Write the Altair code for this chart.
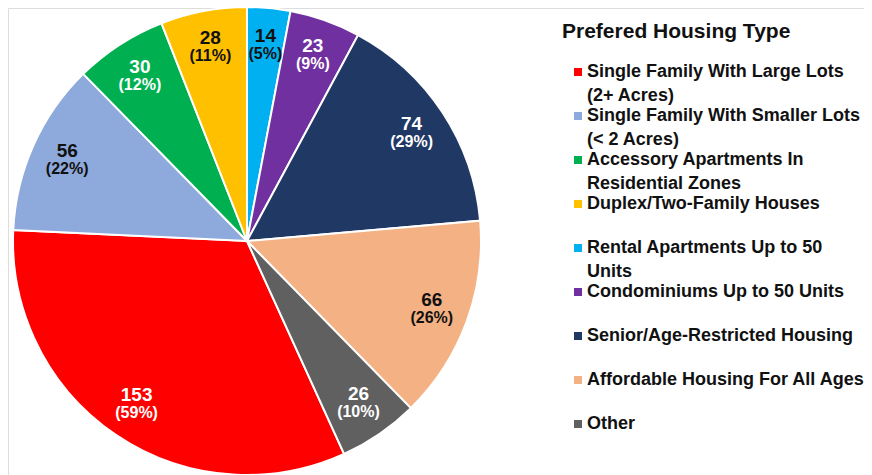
import altair as alt
import pandas as pd

# ---- data ----
categories = [
    "Single Family With Large Lots (2+ Acres)",
    "Single Family With Smaller Lots (< 2 Acres)",
    "Accessory Apartments In Residential Zones",
    "Duplex/Two-Family Houses",
    "Rental Apartments Up to 50 Units",
    "Condominiums Up to 50 Units",
    "Senior/Age-Restricted Housing",
    "Affordable Housing For All Ages",
    "Other",
]
counts = [153, 56, 30, 28, 14, 23, 74, 66, 26]
percents = [59, 22, 12, 11, 5, 9, 29, 26, 10]
colors = ["#FF0000", "#8EA9DB", "#00B050", "#FFC000", "#00B0F0",
          "#7030A0", "#203864", "#F4B183", "#606060"]

# slice sequence going clockwise from 12 o'clock
clockwise_from_top = [
    "Rental Apartments Up to 50 Units",
    "Condominiums Up to 50 Units",
    "Senior/Age-Restricted Housing",
    "Affordable Housing For All Ages",
    "Other",
    "Single Family With Large Lots (2+ Acres)",
    "Single Family With Smaller Lots (< 2 Acres)",
    "Accessory Apartments In Residential Zones",
    "Duplex/Two-Family Houses",
]

# legend label wrapping (a blank second line keeps every entry the same height)
legend_lines = {
    "Single Family With Large Lots (2+ Acres)": ["Single Family With Large Lots", "(2+ Acres)"],
    "Single Family With Smaller Lots (< 2 Acres)": ["Single Family With Smaller Lots", "(< 2 Acres)"],
    "Accessory Apartments In Residential Zones": ["Accessory Apartments In", "Residential Zones"],
    "Duplex/Two-Family Houses": ["Duplex/Two-Family Houses", ""],
    "Rental Apartments Up to 50 Units": ["Rental Apartments Up to 50", "Units"],
    "Condominiums Up to 50 Units": ["Condominiums Up to 50 Units", ""],
    "Senior/Age-Restricted Housing": ["Senior/Age-Restricted Housing", ""],
    "Affordable Housing For All Ages": ["Affordable Housing For All Ages", ""],
    "Other": ["Other", ""],
}
dark_text = [
    "Single Family With Smaller Lots (< 2 Acres)",
    "Duplex/Two-Family Houses",
    "Rental Apartments Up to 50 Units",
    "Affordable Housing For All Ages",
]

df = pd.DataFrame({"category": categories, "count": counts, "pct": percents})
df["seq"] = df["category"].map({c: i for i, c in enumerate(clockwise_from_top)})
df["num_label"] = df["count"].astype(str)
df["pct_label"] = "(" + df["pct"].astype(str) + "%)"

def js_str(s):
    return "'" + s.replace("\\", "\\\\").replace("'", "\\'") + "'"

expr = "datum.label"
for cat in reversed(categories):
    lines = "[" + ", ".join(js_str(l) for l in legend_lines[cat]) + "]"
    expr = f"datum.label === {js_str(cat)} ? {lines} : ({expr})"

FONT = "Liberation Sans"
CX, CY, R = 239, 233, 234

base = alt.Chart(df).encode(
    theta=alt.Theta("count:Q", stack=True),
    order=alt.Order("seq:Q", sort="ascending"),
    x=alt.value(CX),
    y=alt.value(CY),
)

pie = base.mark_arc(radius=R, stroke="white", strokeWidth=2).encode(
    color=alt.Color(
        "category:N",
        scale=alt.Scale(domain=categories, range=colors),
        sort=categories,
        legend=alt.Legend(
            title="Prefered Housing Type",
            orient="none",
            legendX=554,
            legendY=13,
            titleFont=FONT,
            titleFontSize=21,
            titleFontWeight="bold",
            titleColor="#111111",
            titleLimit=400,
            titlePadding=21,
            labelFont=FONT,
            labelFontSize=18,
            labelFontWeight="bold",
            labelColor="#111111",
            labelLimit=400,
            labelBaseline="middle",
            labelExpr=expr,
            symbolType="square",
            symbolSize=64,
            symbolStrokeWidth=0,
            symbolOffset=7,
            labelOffset=0,
        ),
    )
)

text_color = alt.condition(
    alt.FieldOneOfPredicate(field="category", oneOf=dark_text),
    alt.value("#111111"),
    alt.value("white"),
)

nums = base.mark_text(radius=197, dy=-9, font=FONT, fontSize=19, fontWeight="bold").encode(
    text="num_label:N", color=text_color
)
pcts = base.mark_text(radius=197, dy=9, font=FONT, fontSize=16, fontWeight="bold").encode(
    text="pct_label:N", color=text_color
)

chart = (
    alt.layer(pie, nums, pcts)
    .properties(
        width=856,
        height=467,
        padding={"left": 0, "top": 0, "right": 0, "bottom": 0},
        autosize=alt.AutoSizeParams(type="none"),
    )
    .configure_view(stroke=None)
    .configure(style={"guide-label": {"lineHeight": 23.75}})
)

chart.save("out.html", embed_options={"renderer": "svg", "actions": False})
